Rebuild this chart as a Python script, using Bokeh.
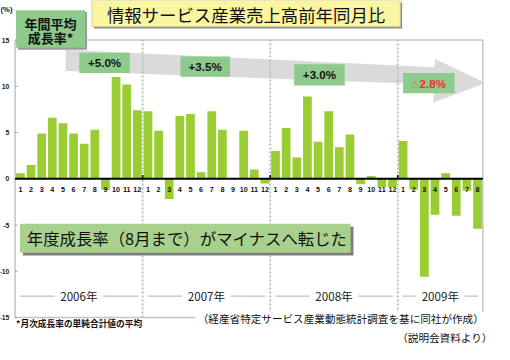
from bokeh.plotting import figure
from bokeh.models import Range1d
from bokeh.core.properties import value
from bokeh.embed import file_html
from bokeh.resources import INLINE

# ---------------- data ----------------
years = ["2006年", "2007年", "2008年", "2009年"]
growth_2006 = [0.6, 1.5, 4.9, 6.6, 6.0, 4.9, 3.8, 5.3, -1.2, 11.0, 10.2, 7.4]
growth_2007 = [7.3, 5.2, -2.2, 6.8, 7.0, 0.7, 7.3, 5.3, 0.0, 5.2, 1.0, -0.5]
growth_2008 = [3.0, 5.5, 2.3, 8.9, 4.0, 7.3, 3.4, 4.8, -0.6, 0.3, -0.9, -0.9]
growth_2009 = [4.1, -1.2, -10.6, -3.9, 0.6, -4.0, -1.3, -5.4]
annual_labels = ["+5.0%", "+3.5%", "+3.0%", "2.8%"]
annual_negative = [False, False, False, True]
y_ticks = [15, 10, 5, 0, -5, -10, -15]
y_tick_labels = ["15", "10", "5", "0", "-5", "-10", "-15"]
title_text = "情報サービス産業売上高前年同月比"
avg_box_lines = ["年間平均", "成長率*"]
callout_text = "年度成長率（8月まで）がマイナスへ転じた"
note_left = "*月次成長率の単純合計値の平均"
note_source = "（経産省特定サービス産業動態統計調査を基に同社が作成）"
note_ref = "（説明会資料より）"

series = [growth_2006, growth_2007, growth_2008, growth_2009]
values = [v for s in series for v in s]
month_labels = [str(m + 1) for s in series for m in range(len(s))]
N = len(values)
bounds = []
acc = 0
for s in series:
    bounds.append((acc, acc + len(s)))
    acc += len(s)

# ---------------- layout (reference pixel space) ----------------
W, H = 494, 344
OX, OY = 1.0, 1.0
SX, SY = W / 508.0, H / 356.0
RL, RR, RT, RB = 16.0, 497.0, 42.0, 329.0
YMIN, YMAX = -15, 15


def ux(rx):
    return (rx - RL) / (RR - RL) * N


def vy(ry):
    return YMAX - (ry - RT) / (RB - RT) * (YMAX - YMIN)


def dy(px):
    return px / (RB - RT) * (YMAX - YMIN)


def dx(px):
    return px / (RR - RL) * N


FS = min(SX, SY)


def fs(px):
    return value(f"{px * FS:.1f}px")


JP = "Noto Sans CJK JP"
AR = "Liberation Sans"

p = figure(width=W, height=H,
           x_range=Range1d(ux(OX), ux(OX + W / SX)),
           y_range=Range1d(vy(OY + H / SY), vy(OY)),
           x_axis_type=None, y_axis_type=None,
           output_backend="svg", toolbar_location=None, min_border=0)
p.grid.visible = False
p.outline_line_color = None
p.background_fill_color = "white"
p.border_fill_color = "white"


def box(l, r, t, b, color, line=None, lw=1):
    p.quad(left=[ux(l)], right=[ux(r)], top=[vy(t)], bottom=[vy(b)],
           fill_color=color, line_color=line, line_width=lw)


def label(rx, ry, s, size, font=JP, style="normal", color="#111111", align="center"):
    p.text(x=[ux(rx)], y=[vy(ry)], text=[s], text_font=value(font),
           text_font_size=fs(size), text_font_style=style, text_color=color,
           text_align=align, text_baseline="middle")


# frame lines
p.segment(x0=[0, 0, N, 0], y0=[YMIN, YMAX, YMIN, YMIN], x1=[0, N, N, ux(203)],
          y1=[YMAX, YMAX, YMAX, YMIN], line_color="#C4C4C4", line_width=1.5)

# y ticks and labels
p.segment(x0=[0] * len(y_ticks), x1=[dx(2.5)] * len(y_ticks), y0=y_ticks, y1=y_ticks,
          line_color="#A0A0A0", line_width=1)
p.text(x=[ux(10)] * len(y_ticks), y=y_ticks, text=y_tick_labels, text_font=value(AR),
       text_font_size=fs(7), text_font_style="bold", text_color="#222222",
       text_align="right", text_baseline="middle")
label(1, 10, "(%)", 8, font=AR, style="bold", align="left")

# arrow band
arrow_px = [(68, 52), (447, 70), (448, 61.5), (500, 86.5), (446, 106.5), (447, 88), (68, 74)]
p.patch([ux(a) for a, b in arrow_px], [vy(b) for a, b in arrow_px],
        fill_color="#DADADA", line_color=None)

# year dividers
div_x = [b[1] for b in bounds[:-1]]
p.segment(x0=div_x, x1=div_x, y0=[YMIN] * len(div_x), y1=[YMAX] * len(div_x),
          line_color="#BDBDBD", line_width=2, line_dash="2 2")

# annual average label boxes
ann_px = [(82, 134, 55, 76), (186, 237, 59, 80), (303, 355, 67, 89), (415, 468, 76, 97)]
for (l, r, t, b), txt, neg in zip(ann_px, annual_labels, annual_negative):
    box(l, r, t, b, "#8DCA8B")
    cx, cy = (l + r) / 2, (t + b) / 2
    if neg:
        label(cx - 14, cy + 0.5, "△", 7, color="#FF2A2A")
        label(cx + 4, cy, txt, 12, font=AR, style="bold", color="#FF2A2A")
    else:
        label(cx, cy, txt, 12, font=AR, style="bold", color="#111111")

# bars
xs = [i + 0.5 for i in range(N)]
p.vbar(x=xs, width=0.82, top=values, bottom=0, fill_color="#9ACD32", line_color=None)

# zero line and boundary ticks
p.segment(x0=[0], x1=[N], y0=[0], y1=[0], line_color="#000000", line_width=2)
p.segment(x0=div_x, x1=div_x, y0=[0] * len(div_x), y1=[dy(4)] * len(div_x),
          line_color="#000000", line_width=1.5)

# month labels
p.text(x=xs, y=[-dy(11)] * N, text=month_labels, text_font=value(AR),
       text_font_size=fs(7.5), text_font_style="bold", text_color="#111111",
       text_align="center", text_baseline="middle")

# year labels with side lines
mids = [(s + e) / 2 for s, e in bounds]
y_year = vy(307)
lx0, lx1 = [], []
for (s, e), m in zip(bounds, mids):
    lx0 += [s + 0.45, m + 2.3]
    lx1 += [m - 2.3, e - 0.45]
p.segment(x0=lx0, x1=lx1, y0=[y_year] * len(lx0), y1=[y_year] * len(lx0),
          line_color="#BFBFBF", line_width=1.2)
p.text(x=mids, y=[y_year] * len(mids), text=years, text_font=value(JP),
       text_font_size=fs(12), text_color="#222222", text_align="center",
       text_baseline="middle")

# title box
box(97, 414, 3, 30, "#8C8C8C")
box(95, 412, 1, 28, "#FAF5A0", line="#D6D29A")
label(253.5, 15, title_text, 18)

# average growth box
box(19, 90, 13, 52, "#9A9A9A")
box(17, 88, 11, 50, "#8DCA8B")
label(52.5, 24.5, avg_box_lines[0], 13.5, style="bold")
label(52.5, 39.5, avg_box_lines[1], 13.5, style="bold")

# callout
box(24, 364, 235, 265, "#7F7F7F")
box(21, 361, 232, 262, "#A9D18E")
label(28, 247, callout_text, 17, align="left")

# notes
box(201, 500, 323, 338, "white")
label(17, 335, note_left, 9, style="bold", align="left")
label(498, 330, note_source, 11, align="right")
label(507, 350, note_ref, 11, align="right")

open("out.html", "w").write(file_html(p, INLINE))
